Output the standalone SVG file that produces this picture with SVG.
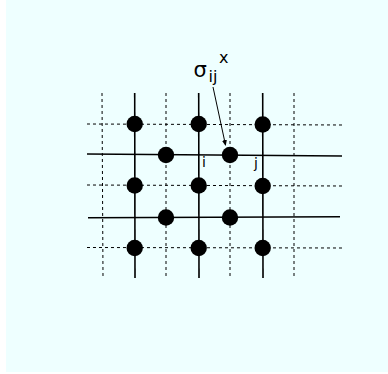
<svg xmlns="http://www.w3.org/2000/svg" width="388" height="374" viewBox="0 0 388 374">
<defs>
<style>
.bg{fill:#eeffff}
.solid{stroke:#000;stroke-width:1.6;fill:none}
.dash{stroke:#000;stroke-width:1;stroke-dasharray:3,3;fill:none}
.dot{fill:#000}
.lbl{font-family:"DejaVu Sans","Liberation Sans",sans-serif;fill:#000}
</style>
<marker id="ah" markerWidth="6" markerHeight="6" refX="5" refY="3" orient="auto" markerUnits="userSpaceOnUse">
<path d="M0,0.5 L6,3 L0,5.5 z" fill="#000"/>
</marker>
</defs>
<rect x="0" y="0" width="388" height="374" fill="#fff"/>
<rect class="bg" x="6" y="0" width="382" height="372"/>
<g id="grid-dashed">
<line class="dash" x1="102" y1="93" x2="103" y2="278"/>
<line class="dash" x1="166" y1="93" x2="166" y2="278"/>
<line class="dash" x1="230" y1="93" x2="230" y2="278"/>
<line class="dash" x1="294" y1="93" x2="294" y2="278"/>
<line class="dash" x1="87" y1="124" x2="342" y2="125"/>
<line class="dash" x1="87" y1="185" x2="342" y2="186"/>
<line class="dash" x1="87" y1="247.5" x2="342" y2="248"/>
</g>
<g id="grid-solid">
<line class="solid" x1="134.7" y1="93" x2="135" y2="278"/>
<line class="solid" x1="198.7" y1="93" x2="199" y2="278"/>
<line class="solid" x1="262.7" y1="93" x2="263" y2="278"/>
<line class="solid" x1="87" y1="154" x2="342" y2="156"/>
<line class="solid" x1="88" y1="217.7" x2="340" y2="216.7"/>
</g>
<g id="sites">
<circle class="dot" cx="134.7" cy="124" r="8.2"/>
<circle class="dot" cx="198.7" cy="124" r="8.2"/>
<circle class="dot" cx="262.7" cy="124.5" r="8.2"/>
<circle class="dot" cx="166" cy="155" r="8.2"/>
<circle class="dot" cx="230" cy="155" r="8.2"/>
<circle class="dot" cx="134.7" cy="185.5" r="8.2"/>
<circle class="dot" cx="198.7" cy="185.5" r="8.2"/>
<circle class="dot" cx="262.7" cy="186" r="8.2"/>
<circle class="dot" cx="166" cy="217.5" r="8.2"/>
<circle class="dot" cx="230" cy="217.5" r="8.2"/>
<circle class="dot" cx="134.7" cy="248" r="8.2"/>
<circle class="dot" cx="198.7" cy="248" r="8.2"/>
<circle class="dot" cx="262.7" cy="248" r="8.2"/>
</g>
<g id="connectors">
<line x1="213" y1="87" x2="225.5" y2="145" stroke="#000" stroke-width="1" marker-end="url(#ah)"/>
</g>
<g id="labels">
<text class="lbl" x="193.5" y="77" font-size="21">σ</text>
<text class="lbl" x="208.5" y="82" font-size="16">ij</text>
<text class="lbl" x="219" y="63" font-size="16">x</text>
<text class="lbl" x="202" y="167" font-size="14">i</text>
<text class="lbl" x="254" y="168" font-size="14">j</text>
</g>
</svg>
